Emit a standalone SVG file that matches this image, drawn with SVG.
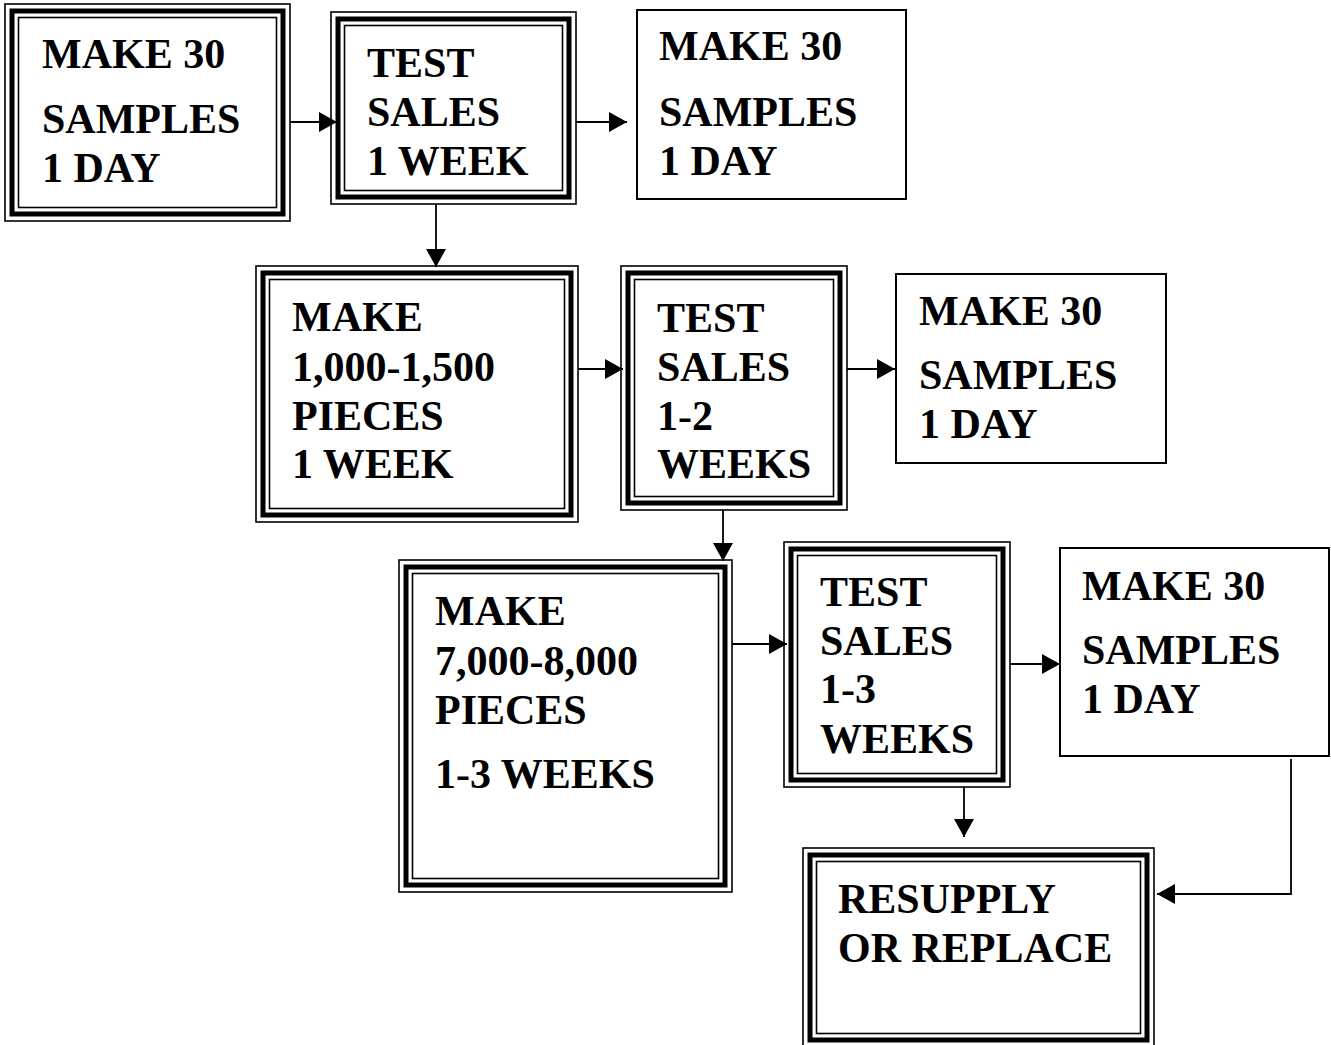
<svg xmlns="http://www.w3.org/2000/svg" width="1331" height="1045" viewBox="0 0 1331 1045">
<style>
  .o { fill: #fff; stroke: #000; stroke-width: 1.6; }
  .t { fill: none; stroke: #000; stroke-width: 5; }
  .i { fill: none; stroke: #000; stroke-width: 1.6; }
  .p { fill: #fff; stroke: #000; stroke-width: 2; }
  text { font-family: "Liberation Serif", "Times New Roman", serif; font-weight: bold; font-size: 42px; fill: #000; }
  .c { fill: none; stroke: #000; stroke-width: 1.8; marker-end: url(#ah); }
</style>
<defs>
  <marker id="ah" viewBox="0 0 18 20" refX="18" refY="10" markerWidth="18" markerHeight="20" markerUnits="userSpaceOnUse" orient="auto">
    <path d="M0,0 L18,10 L0,20 Z" fill="#000"/>
  </marker>
</defs>
<rect width="1331" height="1045" fill="#fff"/>

<g id="n1">
  <rect class="o" x="5" y="4" width="285" height="217"/>
  <rect class="t" x="12" y="11" width="271" height="203"/>
  <rect class="i" x="18.5" y="17.5" width="258" height="190"/>
  <text x="42" y="68">MAKE 30</text>
  <text x="42" y="133">SAMPLES</text>
  <text x="42" y="182">1 DAY</text>
</g>

<g id="n2">
  <rect class="o" x="331" y="12" width="245" height="192"/>
  <rect class="t" x="338" y="19" width="231" height="178"/>
  <rect class="i" x="344.5" y="25.5" width="218" height="165"/>
  <text x="367" y="77">TEST</text>
  <text x="367" y="126">SALES</text>
  <text x="367" y="175">1 WEEK</text>
</g>

<g id="n3">
  <rect class="p" x="637" y="10" width="269" height="189"/>
  <text x="659" y="60">MAKE 30</text>
  <text x="659" y="126">SAMPLES</text>
  <text x="659" y="175">1 DAY</text>
</g>

<g id="n4">
  <rect class="o" x="256" y="266" width="322" height="256"/>
  <rect class="t" x="263" y="273" width="308" height="242"/>
  <rect class="i" x="269.5" y="279.5" width="295" height="229"/>
  <text x="292" y="331">MAKE</text>
  <text x="292" y="381">1,000-1,500</text>
  <text x="292" y="430">PIECES</text>
  <text x="292" y="478">1 WEEK</text>
</g>

<g id="n5">
  <rect class="o" x="621" y="266" width="226" height="244"/>
  <rect class="t" x="628" y="273" width="212" height="230"/>
  <rect class="i" x="634.5" y="279.5" width="199" height="217"/>
  <text x="657" y="332">TEST</text>
  <text x="657" y="381">SALES</text>
  <text x="657" y="430">1-2</text>
  <text x="657" y="478">WEEKS</text>
</g>

<g id="n6">
  <rect class="p" x="896" y="274" width="270" height="189"/>
  <text x="919" y="325">MAKE 30</text>
  <text x="919" y="389">SAMPLES</text>
  <text x="919" y="438">1 DAY</text>
</g>

<g id="n7">
  <rect class="o" x="399" y="560" width="333" height="332"/>
  <rect class="t" x="406" y="567" width="319" height="318"/>
  <rect class="i" x="412.5" y="573.5" width="306" height="305"/>
  <text x="435" y="625">MAKE</text>
  <text x="435" y="675">7,000-8,000</text>
  <text x="435" y="724">PIECES</text>
  <text x="435" y="788">1-3 WEEKS</text>
</g>

<g id="n8">
  <rect class="o" x="784" y="542" width="226" height="245"/>
  <rect class="t" x="791" y="549" width="212" height="231"/>
  <rect class="i" x="797.5" y="555.5" width="199" height="218"/>
  <text x="820" y="606">TEST</text>
  <text x="820" y="655">SALES</text>
  <text x="820" y="703">1-3</text>
  <text x="820" y="753">WEEKS</text>
</g>

<g id="n9">
  <rect class="p" x="1060" y="548" width="269" height="208"/>
  <text x="1082" y="600">MAKE 30</text>
  <text x="1082" y="664">SAMPLES</text>
  <text x="1082" y="713">1 DAY</text>
</g>

<g id="n10">
  <rect class="o" x="803" y="848" width="351" height="199"/>
  <rect class="t" x="810" y="855" width="337" height="185"/>
  <rect class="i" x="816.5" y="861.5" width="324" height="172"/>
  <text x="838" y="913">RESUPPLY</text>
  <text x="838" y="962">OR REPLACE</text>
</g>

<g id="connectors">
  <path class="c" d="M290,122 H337"/>
  <path class="c" d="M576,122 H627"/>
  <path class="c" d="M436,204 V267"/>
  <path class="c" d="M578,369 H623"/>
  <path class="c" d="M847,369 H895"/>
  <path class="c" d="M723,510 V561"/>
  <path class="c" d="M732,644 H787"/>
  <path class="c" d="M1010,664 H1060"/>
  <path class="c" d="M964,787 V837"/>
  <path class="c" d="M1291,759 V894 H1157"/>
</g>
</svg>
